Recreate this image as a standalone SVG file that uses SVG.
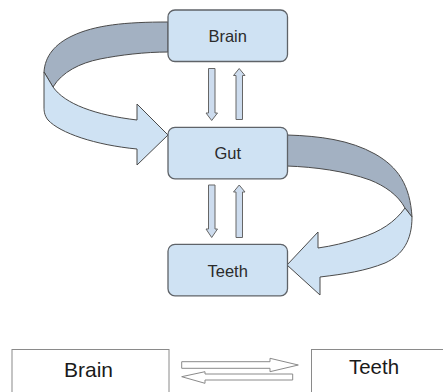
<svg xmlns="http://www.w3.org/2000/svg" width="443" height="392" viewBox="0 0 443 392">
<style>
.node rect{fill:#cfe2f3;stroke:#5f6368;stroke-width:1.3}
.node text{font-family:"Liberation Sans",Arial,sans-serif;font-size:16.5px;fill:#2b2b2b;text-anchor:middle}
.back{fill:#a3b1c2;stroke:#4a4a4a;stroke-width:1}
.front{fill:#cfe2f3;stroke:#4a4a4a;stroke-width:1}
.small{fill:#cddcee;stroke:#666;stroke-width:1}
.plain rect{fill:#fff;stroke:#8a8a8a;stroke-width:1}
.plain text{font-family:"Liberation Sans",Arial,sans-serif;font-size:21px;fill:#1a1a1a;text-anchor:middle}
.white{fill:#fff;stroke:#8a8a8a;stroke-width:1}
</style>
<g id="connectors">
<path class="back" d="M168,22 C125,22 95,25 72,36 C55,44 45,56 44,72 L53,87 C62,72 80,63 100,59 C120,55 145,52 168,52 Z"/>
<path class="front" d="M44,72 L53,87 C65,104 95,115 137,120 L137,104 L168,135 L137,165 L137,149 C95,145 60,133 48,120 C44,115 44,110 44,107 Z"/>
<path class="back" d="M287,135 C320,136 350,140 375,154 C398,167 410,185 412,217 L405,208 C398,195 385,186 370,180 C345,171 315,167 287,166 Z"/>
<path class="front" d="M405,208 C395,222 380,232 360,238 C345,243 332,246 318,248 L318,232 L287,265 L320,295 L320,277 C345,274 365,271 385,263 C403,255 412,240 412,217 Z"/>
<path class="small" d="M208.5,68.5 L215,68.5 L215,113 L217.5,113 L211.7,120.5 L206,113 L208.5,113 Z"/>
<path class="small" d="M236,119.5 L242.5,119.5 L242.5,75.5 L245,75.5 L239.2,68.5 L233.5,75.5 L236,75.5 Z"/>
<path class="small" d="M208.5,185 L215,185 L215,229 L217.5,229 L211.7,237.5 L206,229 L208.5,229 Z"/>
<path class="small" d="M236,237.5 L242.5,237.5 L242.5,192 L245,192 L239.2,185 L233.5,192 L236,192 Z"/>
<path class="white" d="M181.7,361.7 L270,361.7 L270,358.3 L298.3,365 L270,371.7 L270,368.3 L181.7,368.3 Z"/>
<path class="white" d="M292.7,374 L205,374 L205,371.7 L181.7,376.7 L205,383.3 L205,380 L292.7,380 Z"/>
</g>
<g id="brain" class="node"><rect x="168" y="10" width="119.5" height="51.5" rx="7"/><text x="227.7" y="41.7">Brain</text></g>
<g id="gut" class="node"><rect x="168" y="127.3" width="119.5" height="51.5" rx="7"/><text x="227.7" y="159.3">Gut</text></g>
<g id="teeth" class="node"><rect x="168" y="244.3" width="119.5" height="51.5" rx="7"/><text x="227.7" y="276.7">Teeth</text></g>
<g id="brain2" class="plain"><rect x="12" y="349.5" width="157" height="60"/><text x="88.5" y="376.7">Brain</text></g>
<g id="teeth2" class="plain"><rect x="311.5" y="349.5" width="150" height="60"/><text x="374" y="373.5" textLength="50" lengthAdjust="spacingAndGlyphs">Teeth</text></g>
</svg>
